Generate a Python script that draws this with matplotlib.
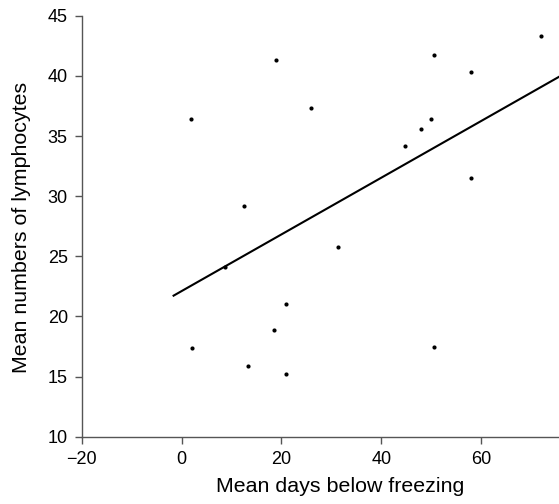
import numpy as np
import matplotlib.pyplot as plt

plt.rcParams["font.family"] = ["Liberation Sans", "DejaVu Sans"]

# mean days below freezing vs mean lymphocyte counts
days = [1.8, 2.0, 8.7, 12.5, 13.3, 18.5, 19.0, 21.0, 21.0, 26.0,
        31.3, 44.7, 48.0, 50.0, 50.5, 50.5, 58.0, 58.0, 72.0]
lymph = [36.4, 17.4, 24.1, 29.2, 15.9, 18.9, 41.3, 21.0, 15.2, 37.3,
         25.8, 34.2, 35.6, 36.4, 41.7, 17.5, 40.3, 31.5, 43.3]

fit_x = [-1.6, 75.6]

slope, intercept = np.polyfit(days, lymph, 1)

fig = plt.figure(figsize=(5.59, 5.04), dpi=100)
ax = fig.add_axes([0.1462, 0.1335, 0.8538, 0.8353])

ax.scatter(days, lymph, s=9, color="black", zorder=3, linewidths=0)
fx = np.array(fit_x)
ax.plot(fx, slope * fx + intercept, color="black", lw=1.5, clip_on=False)

ax.set_xlim(-20, 75.6)
ax.set_ylim(10, 45)
ax.set_xticks([-20, 0, 20, 40, 60])
ax.set_xticklabels(["\u221220", "0", "20", "40", "60"])
ax.set_yticks([10, 15, 20, 25, 30, 35, 40, 45])

for s in ["top", "right"]:
    ax.spines[s].set_visible(False)
for s in ["left", "bottom"]:
    ax.spines[s].set_color("#555555")
    ax.spines[s].set_linewidth(1.0)
ax.tick_params(direction="out", length=5, width=1.0, color="#555555",
               labelsize=13, pad=5)

ax.set_xlabel("Mean days below freezing", fontsize=15.4)
ax.set_ylabel("Mean numbers of lymphocytes", fontsize=15.4)
ax.xaxis.set_label_coords(0.542, -0.095)
ax.yaxis.set_label_coords(-0.106, 0.497)

fig.savefig("out.png", dpi=100)
plt.close(fig)
